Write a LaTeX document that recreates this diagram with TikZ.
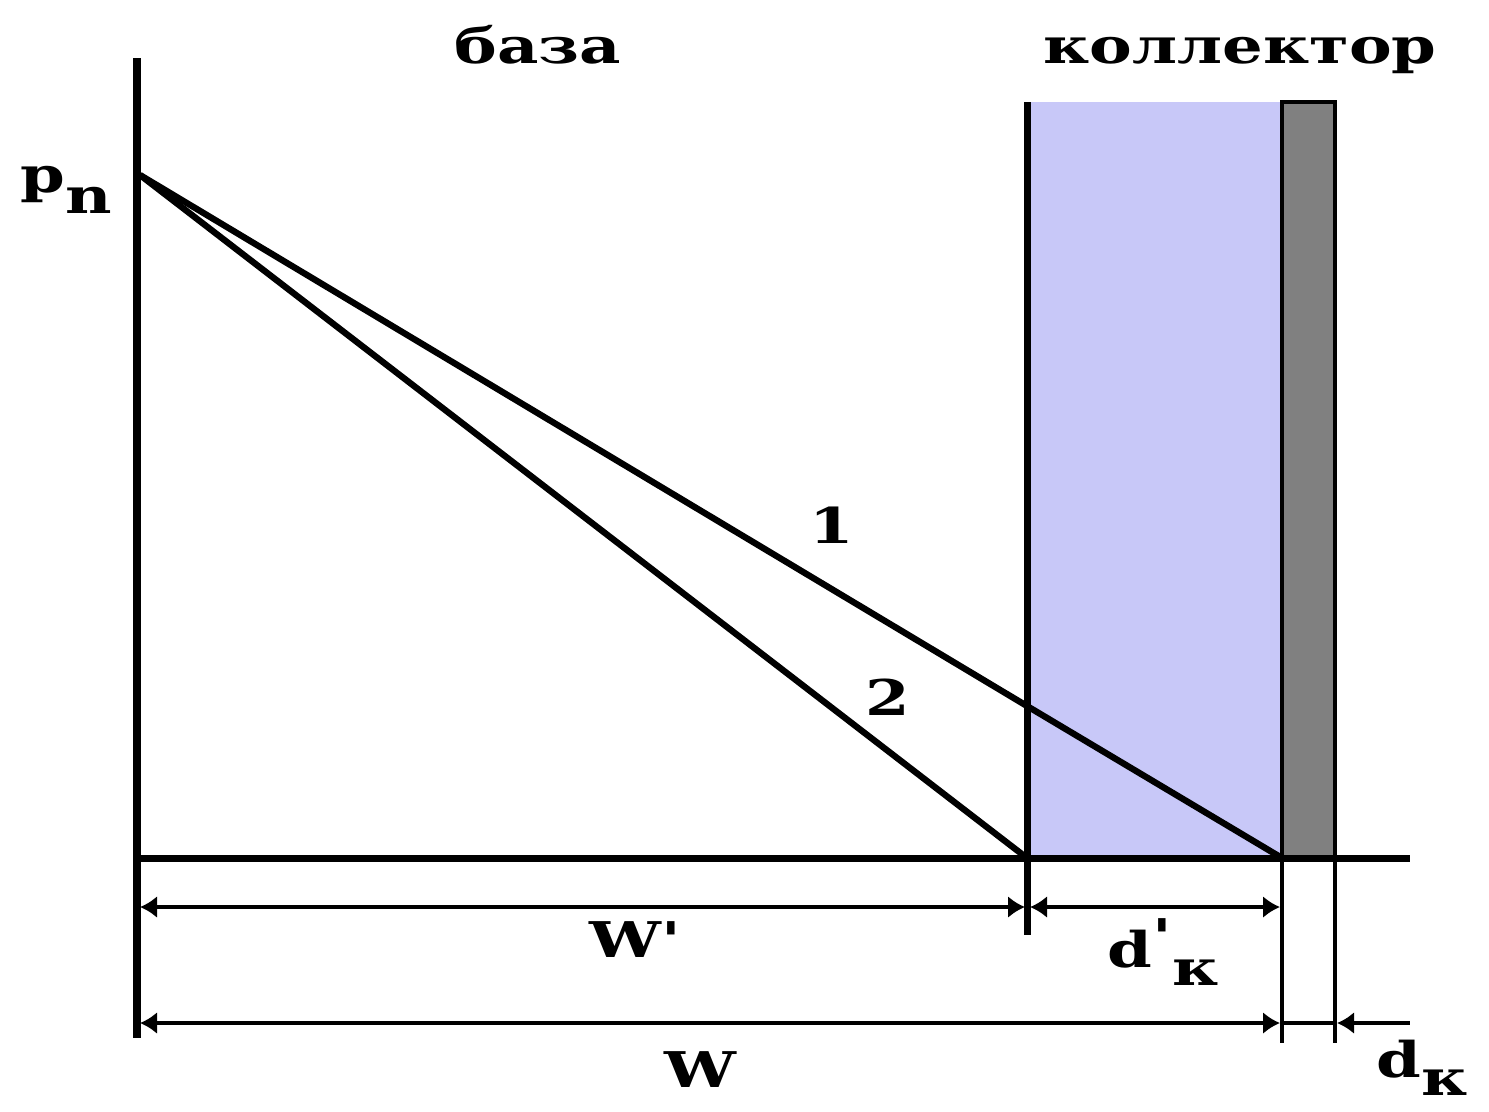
\documentclass[tikz,border=0pt]{standalone}
\usepackage{fontspec}
\setmainfont{Liberation Serif}
\newfontfamily\figfont[FakeStretch=1.3]{DejaVu Serif}
\usetikzlibrary{arrows.meta}
\definecolor{colbase}{HTML}{C8C8F8}
\definecolor{colgrey}{HTML}{808080}
\tikzset{
  axisline/.style={line width=2pt, black},
  profline/.style={line width=1.8pt, black},
  dimline/.style={line width=0.9pt, black},
  dimarrow/.style={dimline, {Latex[length=0.17cm,width=0.22cm]}-{Latex[length=0.17cm,width=0.22cm]}},
  figlabel/.style={font=\figfont\bfseries\fontsize{14}{16}\selectfont, inner sep=0pt}
}

\begin{document}
\begin{tikzpicture}[x=0.01cm, y=-0.01cm]
  \useasboundingbox (0,0) rectangle (1489,1111);

  % Collector regions
  \fill[colbase] (1027,102) rectangle (1282,858);
  \filldraw[fill=colgrey, draw=black, line width=0.9pt] (1282,102) rectangle (1335,858);

  % Key points
  \coordinate (top)  at (137,58);
  \coordinate (bot)  at (137,1038);
  \coordinate (orig) at (137,858);
  \coordinate (xend) at (1410,858);
  \coordinate (pn)   at (140,175);
  \coordinate (k1)   at (1027,706);
  \coordinate (k2)   at (1027,858);
  \coordinate (c1)   at (1282,858);
  \coordinate (ktop) at (1027,102);
  \coordinate (kbot) at (1027,935);
  \coordinate (cbot) at (1282,1043);
  \coordinate (gtop) at (1335,858);
  \coordinate (gbot) at (1335,1043);

  % Axes
  \draw[axisline] (top) -- (bot);
  \draw[axisline] (orig) -- (xend);
  \draw[axisline] (ktop) -- (kbot);
  \draw[dimline] (c1) -- (cbot);
  \draw[dimline] (gtop) -- (gbot);

  % Profiles
  \draw[profline] (pn) -- (k1) -- (c1);
  \draw[profline] (pn) -- (k2);

  % Dimensions
  \coordinate (wa) at (140,907);
  \coordinate (wb) at (1025,907);
  \coordinate (da) at (1030,907);
  \coordinate (db) at (1280,907);
  \coordinate (Wa) at (140,1023);
  \coordinate (Wb) at (1280,1023);
  \coordinate (dka) at (1337,1023);
  \coordinate (dkb) at (1410,1023);
  \draw[dimarrow] (wa) -- (wb);
  \draw[dimarrow] (da) -- (db);
  \draw[dimarrow] (Wa) -- (Wb);
  \draw[dimline] (Wb) -- (dka);
  \draw[dimline, {Latex[length=0.17cm,width=0.22cm]}-] (dka) -- (dkb);

  % Labels
  \node[figlabel] (baza) at (538,45) {база};
  \node[figlabel] (koll) at (1240,55) {коллектор};
  \node[figlabel] (pnlab) at (66,190) {p\raisebox{-0.8ex}{n}};
  \node[figlabel] (one) at (832,525) {1};
  \node[figlabel] (two) at (888,697) {2};
  \node[figlabel] (wlab) at (635,940) {W'};
  \node[figlabel] (dklab) at (1163,952) {d\raisebox{0.5ex}{'}\raisebox{-0.7ex}{к}};
  \node[figlabel] (Wlab) at (700,1070) {W};
  \node[figlabel] (dkout) at (1422,1068) {d\raisebox{-0.7ex}{к}};
\end{tikzpicture}
\end{document}
